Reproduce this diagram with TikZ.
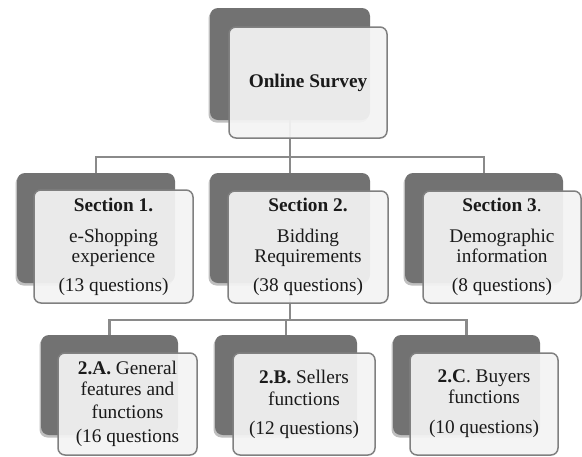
\documentclass[tikz,border=0pt]{standalone}
\usepackage{fontspec}
\setmainfont{Liberation Serif}
\usetikzlibrary{shadows}
\definecolor{darkfill}{HTML}{727272}
\definecolor{lightfill}{HTML}{F4F4F4}
\definecolor{edgegray}{HTML}{808080}
\definecolor{conngray}{HTML}{8A8A8A}
\definecolor{textcol}{HTML}{1A1A1A}
\tikzset{
  dbox/.style={rectangle, rounded corners=8pt, fill=darkfill, inner sep=0pt,
    drop shadow={shadow xshift=-1.5pt, shadow yshift=-2.5pt, opacity=0.25, fill=black}},
  lbox/.style={rectangle, rounded corners=7pt, draw=edgegray, line width=1.5pt,
    fill=lightfill, fill opacity=0.93, text opacity=1, inner sep=0pt,
    align=center, text=textcol, font=\fontsize{19.3}{20}\selectfont},
  conn/.style={draw=conngray, line width=2.2pt}
}
\begin{document}
\begin{tikzpicture}[x=1pt,y=-1pt]
\useasboundingbox (0,0) rectangle (582,456);
\fill[white] (0,0) rectangle (582,456);
% dark back boxes
\node[dbox, minimum width=160pt, minimum height=112pt] (topD) at (290,64) {};
\node[dbox, minimum width=158pt, minimum height=110pt] (s1D) at (96,228) {};
\node[dbox, minimum width=160pt, minimum height=110pt] (s2D) at (290,228) {};
\node[dbox, minimum width=158pt, minimum height=110pt] (s3D) at (484,228) {};
\node[dbox, minimum width=137pt, minimum height=100pt] (aD) at (109.5,385) {};
\node[dbox, minimum width=142pt, minimum height=100pt] (bD) at (286,385) {};
\node[dbox, minimum width=147pt, minimum height=100pt] (cD) at (466.5,385) {};
% bus coordinates
\coordinate (bus1) at (0,157);
\coordinate (bus2) at (0,320);
% connectors
\draw[conn] (topD.south) -- (s2D.north);
\draw[conn] (s1D.north) |- (s3D.north |- bus1) -- (s3D.north);
\draw[conn] (s2D.south) -- (s2D.south |- bus2);
\draw[conn] (aD.north) |- (cD.north |- bus2) -- (cD.north);
\draw[conn] (bD.north) -- (bD.north |- bus2);
% front boxes
\node[lbox, minimum width=158pt, minimum height=111pt] (top) at (308,82.5) {\textbf{Online Survey}};
\node[lbox, minimum width=159pt, minimum height=113pt] (s1) at (113.5,246.5)
  {\textbf{Section 1.}\\[11pt] e-Shopping\\ experience\\[9pt] (13 questions)};
\node[lbox, minimum width=160pt, minimum height=112pt] (s2) at (308,247)
  {\textbf{Section 2.}\\[11pt] Bidding\\ Requirements\\[9pt] (38 questions)};
\node[lbox, minimum width=158pt, minimum height=112pt] (s3) at (502,247)
  {\textbf{Section 3}.\\[11pt] Demographic\\ information\\[9pt] (8 questions)};
\node[lbox, minimum width=139pt, minimum height=102pt] (a) at (127.5,404)
  {\textbf{2.A.} General\\[1pt] features and\\[3pt] functions\\[4pt] (16 questions};
\node[lbox, minimum width=142pt, minimum height=102pt] (b) at (304,404)
  {\textbf{2.B.} Sellers\\[2pt] functions\\[9pt] (12 questions)};
\node[lbox, minimum width=148pt, minimum height=102pt] (c) at (484,404)
  {\textbf{2.C}. Buyers\\[1pt] functions\\[10pt] (10 questions)};
\end{tikzpicture}
\end{document}
